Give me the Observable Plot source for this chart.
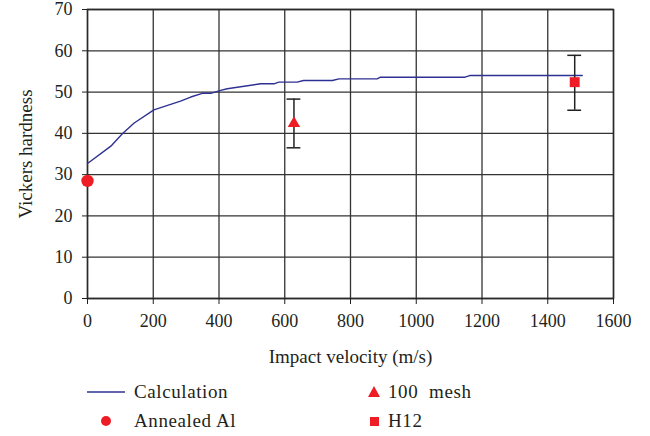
<!DOCTYPE html>
<html>
<head>
<meta charset="utf-8">
<script src="https://cdn.jsdelivr.net/npm/d3@7"></script>
<script src="https://cdn.jsdelivr.net/npm/@observablehq/plot@0.6"></script>
<style>
  html, body { margin: 0; padding: 0; background: #fff; }
  #wrap { width: 650px; height: 436px; position: relative; font-family: "Liberation Serif", serif; color: #231f20; }
  #legend { position: relative; width: 650px; height: 64px; font-size: 19px; letter-spacing: 0.6px; }
  .item { position: absolute; display: flex; align-items: center; height: 24px; }
  .item svg { display: block; }
</style>
</head>
<body>
<div id="wrap">
  <div id="chart"></div>
  <div id="legend"></div>
</div>
<script>
// Calculated hardness curve (impact velocity m/s -> Vickers hardness)
const calcVelocity = [0, 71, 106, 142, 202, 283, 314, 349, 375, 405, 425, 527, 567, 582, 638, 657, 745, 765, 881, 891, 1148, 1163, 1505];
const calcHardness = [32.7, 36.9, 39.9, 42.5, 45.7, 47.8, 48.8, 49.7, 49.7, 50.4, 50.8, 52.0, 52.0, 52.4, 52.4, 52.8, 52.8, 53.2, 53.2, 53.6, 53.6, 54.0, 54.0];

// Measured points
const seriesNames = ["Annealed Al", "100 mesh", "H12"];
const measVelocity = [0, 628, 1482];
const measHardness = [28.5, 42.4, 52.4];
const measLow = [null, 36.5, 45.6];
const measHigh = [null, 48.3, 58.9];
const measSymbol = ["circle", "triangle", "square"];

const xTicks = [0, 200, 400, 600, 800, 1000, 1200, 1400, 1600];
const yTicks = [0, 10, 20, 30, 40, 50, 60, 70];
const xLabel = "Impact velocity (m/s)";
const yLabel = "Vickers hardness";

const calc = calcVelocity.map((v, i) => ({v, h: calcHardness[i]}));
const meas = seriesNames.map((name, i) => ({name, v: measVelocity[i], h: measHardness[i], lo: measLow[i], hi: measHigh[i], symbol: measSymbol[i]}));
const errs = meas.filter(d => d.lo != null);

const red = "#ee1c25";
const navy = "#2e3192";
const ink = "#231f20";
const capHalf = 21;
const symbolRadius = {circle: 6.2, triangle: 4.6, square: 5.6};

const chart = Plot.plot({
  width: 650,
  height: 372,
  marginLeft: 87,
  marginRight: 37,
  marginTop: 9,
  marginBottom: 74,
  style: {fontFamily: "Liberation Serif, serif", fontSize: "18px", color: ink, background: "#fff", overflow: "visible"},
  x: {domain: [0, 1600]},
  y: {domain: [0, 70]},
  r: {type: "identity"},
  marks: [
    Plot.gridX(xTicks, {stroke: "#333", strokeOpacity: 1, strokeWidth: 1.3}),
    Plot.gridY(yTicks, {stroke: "#333", strokeOpacity: 1, strokeWidth: 1.3}),
    Plot.frame({stroke: "#2a2a2a", strokeWidth: 1.5}),
    Plot.axisX({ticks: xTicks, tickFormat: d => String(d), tickSize: 6, tickPadding: 10, label: null, fontSize: 18, stroke: ink, style: {letterSpacing: "1px"}}),
    Plot.axisY({ticks: yTicks, tickFormat: d => String(d), tickSize: 5, tickPadding: 10, label: null, fontSize: 18, stroke: ink, style: {letterSpacing: "1px"}}),
    Plot.text([xLabel], {frameAnchor: "bottom", textAnchor: "middle", lineAnchor: "middle", dy: 58, fontSize: 19, fill: ink, style: {letterSpacing: "1.2px"}}),
    Plot.text([yLabel], {frameAnchor: "left", textAnchor: "middle", lineAnchor: "middle", dx: -62, rotate: -90, fontSize: 19, fill: ink, style: {letterSpacing: "1.4px"}}),
    Plot.line(calc, {x: "v", y: "h", stroke: navy, strokeWidth: 1.4}),
    Plot.ruleX(errs, {x: "v", y1: "lo", y2: "hi", stroke: "#222", strokeWidth: 1.5}),
    Plot.ruleY(errs, {y: "hi", x1: d => d.v - capHalf, x2: d => d.v + capHalf, stroke: "#222", strokeWidth: 1.5}),
    Plot.ruleY(errs, {y: "lo", x1: d => d.v - capHalf, x2: d => d.v + capHalf, stroke: "#222", strokeWidth: 1.5}),
    Plot.dot(meas, {x: "v", y: "h", symbol: "symbol", fill: red, stroke: "none", r: d => symbolRadius[d.symbol]})
  ]
});
document.getElementById("chart").appendChild(chart);

// Legend
const legend = document.getElementById("legend");
const items = [
  {label: "Calculation", kind: "line", left: 87, top: 0},
  {label: seriesNames[0], kind: "circle", left: 87, top: 29},
  {label: seriesNames[1], kind: "triangle", left: 366, top: 0},
  {label: seriesNames[2], kind: "square", left: 366, top: 29}
];
for (const it of items) {
  const div = document.createElement("div");
  div.className = "item";
  div.style.left = it.left + "px";
  div.style.top = (it.top + 8) + "px";
  let sw = (it.kind === "line" || it.kind === "circle") ? 47 : 22;
  let shape = "";
  if (it.kind === "line") shape = `<line x1="0" x2="38" y1="12" y2="12" stroke="${navy}" stroke-width="1.4"/>`;
  if (it.kind === "circle") shape = `<circle cx="19" cy="12" r="5" fill="${red}"/>`;
  if (it.kind === "triangle") shape = `<path d="M8,6 L14,17 L2,17 Z" fill="${red}"/>`;
  if (it.kind === "square") shape = `<rect x="4" y="8" width="9" height="9" fill="${red}"/>`;
  div.innerHTML = `<svg width="${sw}" height="24">${shape}</svg><span>${it.label.replace(" ", it.kind === "triangle" ? "&nbsp; " : " ")}</span>`;
  legend.appendChild(div);
}
</script>
</body>
</html>
